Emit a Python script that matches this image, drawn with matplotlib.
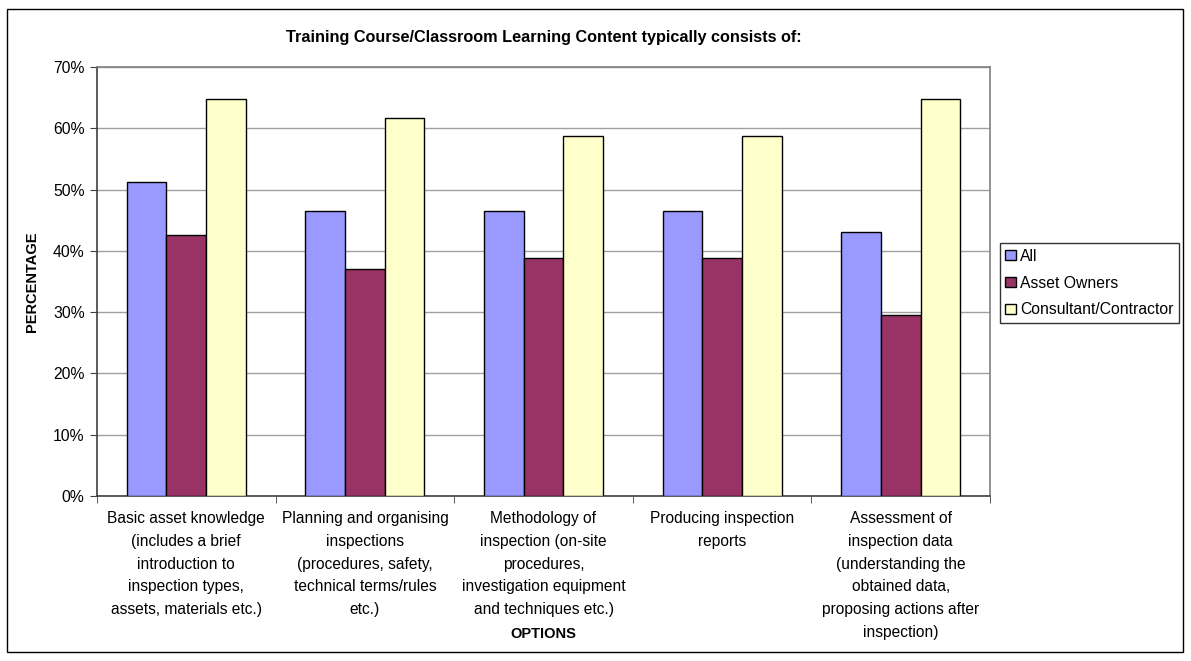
import matplotlib.pyplot as plt
import matplotlib.patches as mpatches
import numpy as np

plt.rcParams['font.family'] = ['Liberation Sans', 'DejaVu Sans']

# data
categories = [
    'Basic asset knowledge\n(includes a brief\nintroduction to\ninspection types,\nassets, materials etc.)',
    'Planning and organising\ninspections\n(procedures, safety,\ntechnical terms/rules\netc.)',
    'Methodology of\ninspection (on-site\nprocedures,\ninvestigation equipment\nand techniques etc.)',
    'Producing inspection\nreports',
    'Assessment of\ninspection data\n(understanding the\nobtained data,\nproposing actions after\ninspection)',
]
series_names = ['All', 'Asset Owners', 'Consultant/Contractor']
all_vals = [51.2, 46.5, 46.5, 46.5, 43.0]
owner_vals = [42.6, 37.0, 38.9, 38.9, 29.6]
consultant_vals = [64.7, 61.6, 58.8, 58.8, 64.7]

colors = ['#9999FF', '#993366', '#FFFFCC']

fig = plt.figure(figsize=(11.91, 6.61), dpi=100)
ax = fig.add_axes([97 / 1191, 165 / 661, 893 / 1191, 429 / 661])

x = np.arange(len(categories))
w = 0.222
for i, vals in enumerate([all_vals, owner_vals, consultant_vals]):
    ax.bar(x + (i - 1) * w, vals, width=w, color=colors[i], edgecolor='black',
           linewidth=1.0, label=series_names[i], zorder=3)

ax.set_xlim(-0.5, len(categories) - 0.5)
ax.set_ylim(0, 70)
ax.set_yticks(np.arange(0, 71, 10))
ax.set_yticklabels([f'{v}%' for v in range(0, 71, 10)], fontsize=11.3)
ax.yaxis.grid(True, color='#A0A0A0', linewidth=1.0, zorder=0)

# category labels centered, ticks at category boundaries
ax.set_xticks(x)
ax.set_xticklabels(categories, fontsize=11.2, linespacing=1.64, va='top')
ax.tick_params(axis='x', length=0, pad=11)
ax.set_xticks(np.arange(-0.5, len(categories)), minor=True)
ax.tick_params(axis='x', which='minor', length=5, direction='out', color='#404040')
ax.tick_params(axis='y', length=5, direction='out', color='#404040', pad=4)

for side in ['top', 'right']:
    ax.spines[side].set_color('#808080')
    ax.spines[side].set_linewidth(1.2)
for side in ['left', 'bottom']:
    ax.spines[side].set_color('#404040')
    ax.spines[side].set_linewidth(1.2)

ax.set_title('Training Course/Classroom Learning Content typically consists of:',
             fontsize=11.7, fontweight='bold', pad=18)
ax.set_xlabel('OPTIONS', fontsize=10.5, fontweight='bold')
ax.xaxis.set_label_coords(0.5, -0.306)
ax.set_ylabel('PERCENTAGE', fontsize=10.5, fontweight='bold')
ax.yaxis.set_label_coords(-0.065, 0.5)

leg = ax.legend(loc='center left', bbox_to_anchor=(1000 / 1191, (661 - 283) / 661),
                bbox_transform=fig.transFigure, fontsize=11.3, frameon=True,
                fancybox=False, edgecolor='black', handlelength=0.65,
                handleheight=0.65, handletextpad=0.3, borderpad=0.35,
                labelspacing=0.75, borderaxespad=0)
leg.get_frame().set_linewidth(1.0)

# outer chart border
fig.patches.append(mpatches.Rectangle((7 / 1191, 9 / 661), 1176 / 1191, 643 / 661,
                                      transform=fig.transFigure, fill=False,
                                      edgecolor='black', linewidth=1.0))

plt.savefig('out.png', dpi=100)
